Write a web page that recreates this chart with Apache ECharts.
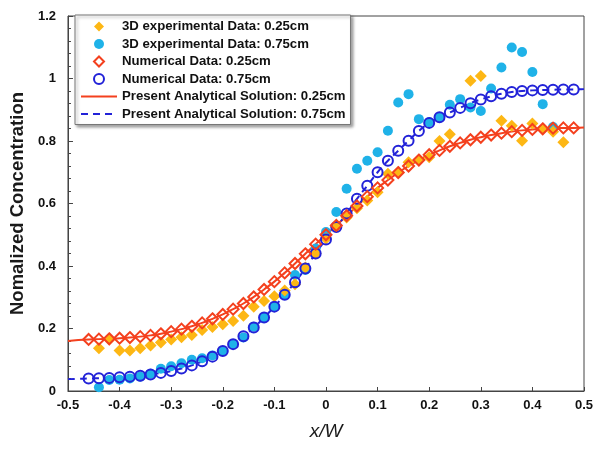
<!DOCTYPE html>
<html>
<head>
<meta charset="utf-8">
<script src="https://cdn.jsdelivr.net/npm/echarts@6/dist/echarts.min.js"></script>
<style>
html,body{margin:0;padding:0;background:#fff;}
#chart{width:601px;height:449px;}
</style>
</head>
<body>
<div id="chart"></div>
<script>
// ---- data ----
const xTicks = [-0.5,-0.4,-0.3,-0.2,-0.1,0,0.1,0.2,0.3,0.4,0.5];
const yTicks = [0,0.2,0.4,0.6,0.8,1,1.2];

const seriesNames = [
  '3D experimental Data: 0.25cm',
  '3D experimental Data: 0.75cm',
  'Numerical Data: 0.25cm',
  'Numerical Data: 0.75cm',
  'Present Analytical Solution: 0.25cm',
  'Present Analytical Solution: 0.75cm'
];

// Numerical data (both widths share x positions)
const xNum = [-0.46,-0.44,-0.42,-0.40,-0.38,-0.36,-0.34,-0.32,-0.30,-0.28,-0.26,-0.24,-0.22,-0.20,-0.18,-0.16,-0.14,-0.12,-0.10,-0.08,-0.06,-0.04,-0.02,0.00,0.02,0.04,0.06,0.08,0.10,0.12,0.14,0.16,0.18,0.20,0.22,0.24,0.26,0.28,0.30,0.32,0.34,0.36,0.38,0.40,0.42,0.44,0.46,0.48];
const numRed = [0.165,0.166,0.167,0.169,0.171,0.174,0.178,0.183,0.190,0.198,0.207,0.218,0.231,0.245,0.262,0.280,0.301,0.325,0.350,0.378,0.408,0.439,0.470,0.500,0.530,0.561,0.592,0.622,0.650,0.675,0.699,0.720,0.739,0.756,0.770,0.783,0.794,0.804,0.812,0.819,0.825,0.830,0.834,0.837,0.839,0.841,0.842,0.842];
const numBlue = [0.040,0.041,0.042,0.044,0.046,0.049,0.053,0.058,0.064,0.072,0.082,0.095,0.110,0.128,0.150,0.175,0.203,0.235,0.270,0.308,0.348,0.392,0.440,0.485,0.525,0.568,0.615,0.657,0.700,0.737,0.769,0.801,0.832,0.858,0.876,0.891,0.906,0.921,0.933,0.943,0.951,0.957,0.960,0.962,0.963,0.964,0.965,0.965];

// Analytical solutions
const xAna = [-0.50,-0.48,-0.46,-0.44,-0.42,-0.40,-0.38,-0.36,-0.34,-0.32,-0.30,-0.28,-0.26,-0.24,-0.22,-0.20,-0.18,-0.16,-0.14,-0.12,-0.10,-0.08,-0.06,-0.04,-0.02,0.00,0.02,0.04,0.06,0.08,0.10,0.12,0.14,0.16,0.18,0.20,0.22,0.24,0.26,0.28,0.30,0.32,0.34,0.36,0.38,0.40,0.42,0.44,0.46,0.48,0.50];
const anaRed = [0.160,0.163,0.165,0.166,0.167,0.169,0.171,0.174,0.178,0.183,0.190,0.198,0.207,0.218,0.231,0.245,0.262,0.280,0.301,0.325,0.350,0.378,0.408,0.439,0.470,0.500,0.530,0.561,0.592,0.622,0.650,0.675,0.699,0.720,0.739,0.756,0.770,0.783,0.794,0.804,0.812,0.819,0.825,0.830,0.834,0.837,0.839,0.841,0.842,0.842,0.843];
const anaBlue = [0.038,0.039,0.040,0.041,0.042,0.044,0.046,0.049,0.053,0.058,0.064,0.072,0.082,0.095,0.110,0.128,0.150,0.175,0.203,0.235,0.270,0.308,0.348,0.392,0.440,0.485,0.525,0.568,0.615,0.657,0.700,0.737,0.769,0.801,0.832,0.858,0.876,0.891,0.906,0.921,0.933,0.943,0.951,0.957,0.960,0.962,0.963,0.964,0.965,0.965,0.966];

// 3D experimental data, 0.25cm
const xExpA = [-0.44,-0.42,-0.40,-0.38,-0.36,-0.34,-0.32,-0.30,-0.28,-0.26,-0.24,-0.22,-0.20,-0.18,-0.16,-0.14,-0.12,-0.10,-0.08,-0.06,-0.04,-0.02,0.00,0.02,0.04,0.06,0.08,0.10,0.12,0.14,0.16,0.18,0.20,0.22,0.24,0.28,0.30,0.34,0.36,0.38,0.40,0.42,0.44,0.46];
const expA = [0.137,0.165,0.130,0.130,0.137,0.146,0.155,0.165,0.172,0.179,0.195,0.205,0.214,0.224,0.241,0.270,0.288,0.303,0.322,0.342,0.395,0.440,0.488,0.525,0.555,0.585,0.610,0.636,0.695,0.700,0.732,0.740,0.748,0.800,0.822,0.993,1.008,0.865,0.849,0.801,0.856,0.838,0.830,0.796];

// 3D experimental data, 0.75cm
const xExpB = [-0.44,-0.42,-0.40,-0.38,-0.36,-0.34,-0.32,-0.30,-0.28,-0.26,-0.24,-0.22,-0.20,-0.18,-0.16,-0.14,-0.12,-0.10,-0.08,-0.06,-0.04,-0.02,0.00,0.02,0.04,0.06,0.08,0.10,0.12,0.14,0.16,0.18,0.20,0.22,0.24,0.26,0.28,0.30,0.32,0.34,0.36,0.38,0.40,0.42,0.44];
const expB = [0.012,0.035,0.036,0.040,0.046,0.055,0.071,0.079,0.089,0.100,0.105,0.114,0.127,0.150,0.171,0.206,0.235,0.270,0.307,0.371,0.387,0.456,0.509,0.573,0.647,0.711,0.737,0.764,0.833,0.923,0.950,0.870,0.860,0.875,0.916,0.934,0.907,0.896,0.968,1.035,1.099,1.085,1.021,0.918,0.845];

// ---- build ----
function pairs(xs, ys){ return xs.map((x,i)=>[x, ys[i]]); }

const cOrange = '#FDB714';
const cCyan = '#1FB2E8';
const cRed = '#F4401E';
const cBlue = '#2222D8';
const FONT = 'Liberation Sans, Arial, sans-serif';
const DIAMOND = 'path://M5,0L10,5L5,10L0,5Z';

const chart = echarts.init(document.getElementById('chart'), null, {renderer:'canvas'});
chart.setOption({
  backgroundColor: '#fff',
  animation: false,
  grid: {left: 67, right: 17, top: 16, bottom: 58, show: true, borderColor: '#444', borderWidth: 1},
  legend: {
    orient: 'vertical', left: 75, top: 15,
    padding: [5, 5, 4, 5],
    itemWidth: 36, itemHeight: 10, itemGap: 4.5,
    symbolKeepAspect: true,
    backgroundColor: '#fff', borderColor: '#777', borderWidth: 1,
    shadowColor: 'rgba(0,0,0,0.35)', shadowBlur: 3, shadowOffsetX: 2, shadowOffsetY: 2,
    textStyle: {fontFamily: FONT, fontWeight: 'bold', fontSize: 13.2, color: '#111'},
    data: [
      {name: seriesNames[0], icon: DIAMOND},
      {name: seriesNames[1], icon: 'circle'},
      {name: seriesNames[2], icon: DIAMOND},
      {name: seriesNames[3], icon: 'circle'},
      {name: seriesNames[4], itemStyle: {opacity: 0}},
      {name: seriesNames[5], itemStyle: {opacity: 0}}
    ]
  },
  xAxis: {
    type: 'value', min: -0.5, max: 0.5, interval: 0.1,
    name: 'x/W', nameLocation: 'middle', nameGap: 31,
    nameTextStyle: {fontFamily: FONT, fontStyle: 'italic', fontSize: 19, color: '#1a1a1a'},
    axisLine: {onZero: false, lineStyle: {color: '#444'}},
    axisTick: {inside: true, length: 4, lineStyle: {color: '#444'}},
    axisLabel: {fontFamily: FONT, fontWeight: 'bold', fontSize: 13, color: '#111', margin: 8,
      formatter: v => String(Math.round(v*10)/10)},
    splitLine: {show: false}
  },
  yAxis: {
    type: 'value', min: 0, max: 1.2, interval: 0.2,
    name: 'Nomalized Concentration', nameLocation: 'middle', nameGap: 35,
    nameTextStyle: {fontFamily: FONT, fontWeight: 'bold', fontSize: 18.5, color: '#1a1a1a'},
    axisLine: {onZero: false, lineStyle: {color: '#444'}},
    axisTick: {inside: true, length: 5, lineStyle: {color: '#444'}},
    minorTick: {show: true, splitNumber: 5, length: 3, lineStyle: {color: '#444'}},
    axisLabel: {fontFamily: FONT, fontWeight: 'bold', fontSize: 13, color: '#111', margin: 12,
      formatter: v => String(Math.round(v*10)/10)},
    splitLine: {show: false}
  },
  series: [
    {name: seriesNames[4], type: 'line', data: pairs(xAna, anaRed), symbol: 'none', smooth: true,
     lineStyle: {color: cRed, width: 2}, itemStyle: {color: cRed}, z: 1},
    {name: seriesNames[5], type: 'line', data: pairs(xAna, anaBlue), symbol: 'none', smooth: true,
     lineStyle: {color: cBlue, width: 2, type: [7, 5]}, itemStyle: {color: cBlue}, z: 1},
    {name: seriesNames[1], type: 'scatter', data: pairs(xExpB, expB), symbol: 'circle', symbolSize: 10,
     itemStyle: {color: cCyan, opacity: 1}, z: 2},
    {name: seriesNames[0], type: 'scatter', data: pairs(xExpA, expA), symbol: 'diamond', symbolSize: 12,
     itemStyle: {color: cOrange, opacity: 1}, z: 3},
    {name: seriesNames[3], type: 'scatter', data: pairs(xNum, numBlue), symbol: 'circle', symbolSize: 10,
     itemStyle: {color: 'rgba(0,0,0,0)', borderColor: cBlue, borderWidth: 2, opacity: 1}, z: 4},
    {name: seriesNames[2], type: 'scatter', data: pairs(xNum, numRed), symbol: 'diamond', symbolSize: 11,
     itemStyle: {color: 'rgba(0,0,0,0)', borderColor: cRed, borderWidth: 2, opacity: 1}, z: 5}
  ]
});
</script>
</body>
</html>
